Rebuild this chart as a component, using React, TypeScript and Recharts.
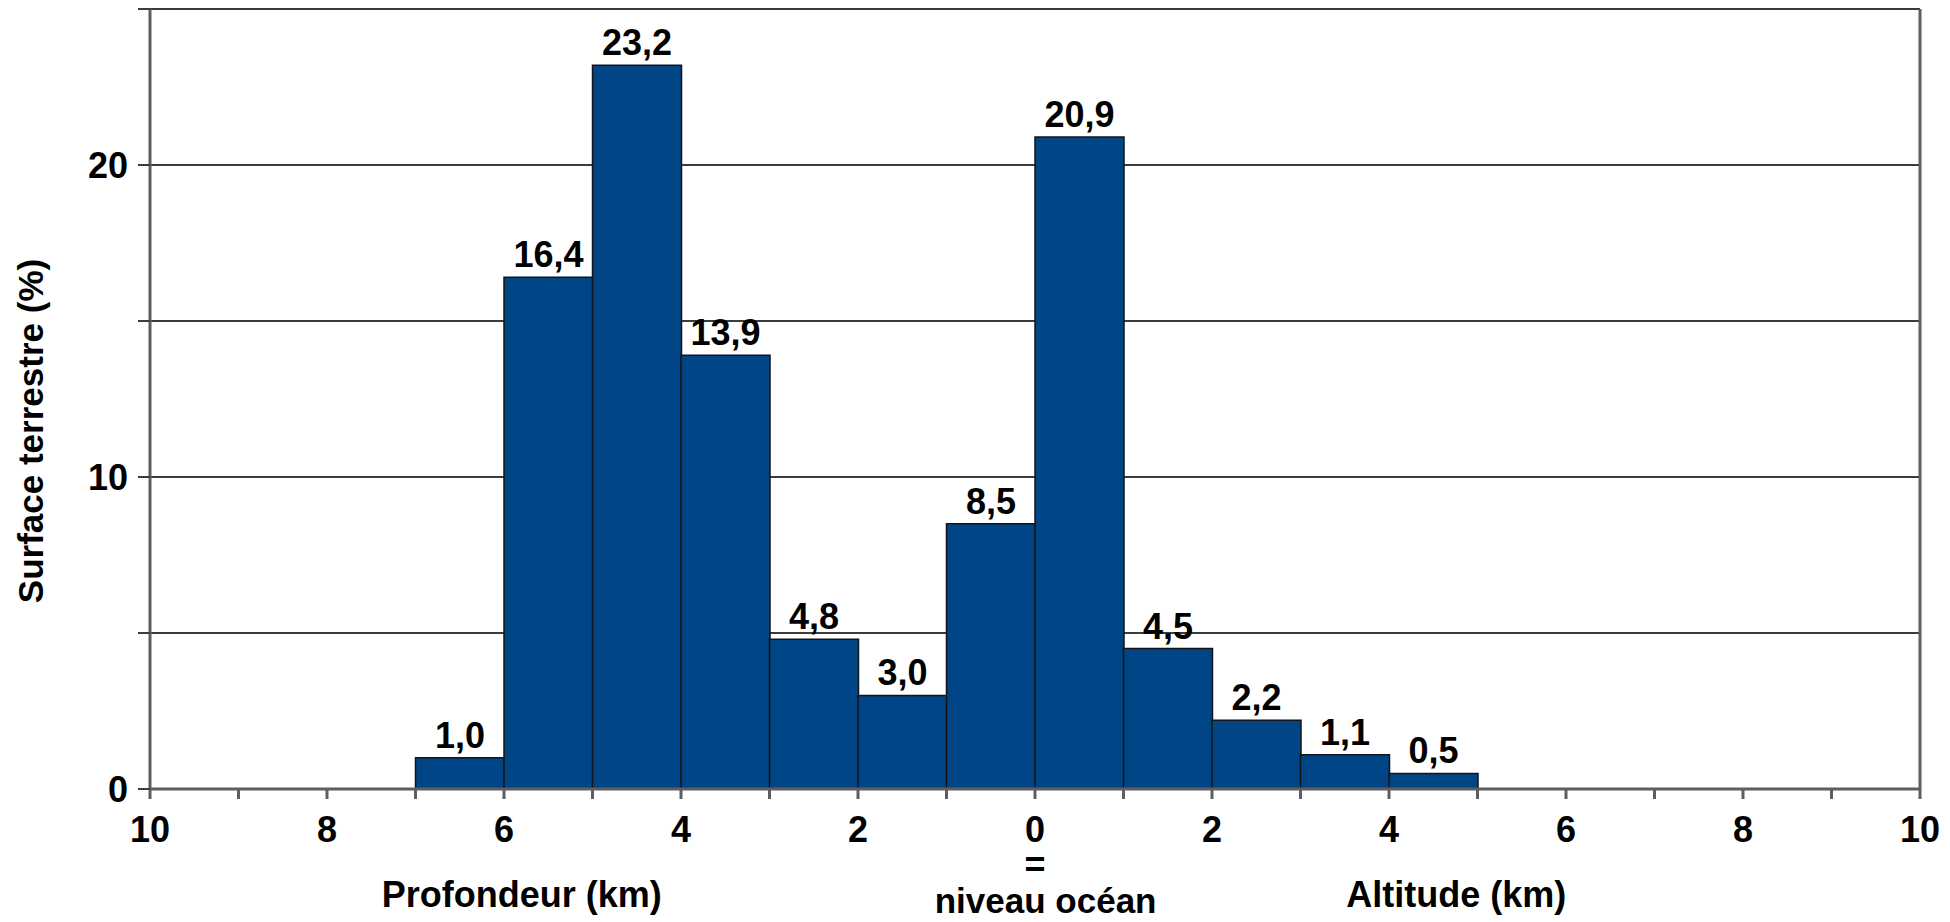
import React from "react";
import {
  BarChart,
  Bar,
  XAxis,
  YAxis,
  CartesianGrid,
  LabelList,
  ReferenceLine,
  Label,
} from "recharts";

// Bins of 1 km, centres from -6.5 (depth 7-6 km) to 4.5 (altitude 4-5 km)
const binCenters = [-6.5, -5.5, -4.5, -3.5, -2.5, -1.5, -0.5, 0.5, 1.5, 2.5, 3.5, 4.5];
const surfaceShares = [1.0, 16.4, 23.2, 13.9, 4.8, 3.0, 8.5, 20.9, 4.5, 2.2, 1.1, 0.5];

const xTicks = [-10, -9, -8, -7, -6, -5, -4, -3, -2, -1, 0, 1, 2, 3, 4, 5, 6, 7, 8, 9, 10];
const yTicks = [0, 5, 10, 15, 20, 25];
const yLabelled = [0, 10, 20];

const data = binCenters.map((x, i) => ({ x, share: surfaceShares[i] }));

const FONT = "'Liberation Sans', Arial, sans-serif";
const BAR = "#004586";
const AXIS = "#5e5e5e";
const GRID = "#3c3c3c";

const textStyle = { fontFamily: FONT, fontWeight: 700, fontSize: 36, fill: "#000" };

export default function App() {
  return (
    <div style={{ position: "absolute", left: 0, top: 0, background: "#fff" }}>
      <BarChart
        width={1950}
        height={922}
        data={data}
        margin={{ top: 9, right: 30, left: 0, bottom: 0 }}
        barCategoryGap={0}
        barGap={0}
      >
        <CartesianGrid vertical={false} stroke={GRID} strokeWidth={2} />
        <XAxis
          dataKey="x"
          type="number"
          domain={[-10, 10]}
          ticks={xTicks}
          interval={0}
          height={133}
          tickSize={10}
          tickMargin={17}
          axisLine={{ stroke: AXIS, strokeWidth: 3 }}
          tickLine={{ stroke: AXIS, strokeWidth: 3 }}
          tick={textStyle}
          tickFormatter={(v: number) => (v % 2 === 0 ? String(Math.abs(v)) : "")}
        >
          <Label
            content={({ viewBox }: any) => {
              const { x, y, width } = viewBox;
              return (
                <g>
                  <text x={x + width * 0.21} y={y + 118} textAnchor="middle" {...textStyle}>
                    Profondeur (km)
                  </text>
                  <text x={x + width * 0.5} y={y + 88} textAnchor="middle" {...textStyle}>
                    =
                  </text>
                  <text x={x + width * 0.506} y={y + 124} textAnchor="middle" {...textStyle} fontSize={35}>
                    niveau océan
                  </text>
                  <text x={x + width * 0.738} y={y + 118} textAnchor="middle" {...textStyle}>
                    Altitude (km)
                  </text>
                </g>
              );
            }}
          />
        </XAxis>
        <YAxis
          type="number"
          domain={[0, 25]}
          ticks={yTicks}
          interval={0}
          width={150}
          tickSize={12}
          tickMargin={10}
          axisLine={{ stroke: AXIS, strokeWidth: 3 }}
          tickLine={{ stroke: GRID, strokeWidth: 2 }}
          tick={textStyle}
          tickFormatter={(v: number) => (yLabelled.includes(v) ? String(v) : "")}
        >
          <Label
            content={({ viewBox }: any) => {
              const cx = 30;
              const cy = viewBox.y + viewBox.height / 2 + 32;
              return (
                <text
                  x={cx}
                  y={cy}
                  transform={`rotate(-90 ${cx} ${cy})`}
                  textAnchor="middle"
                  dominantBaseline="central"
                  {...textStyle}
                  fontSize={35}
                >
                  Surface terrestre (%)
                </text>
              );
            }}
          />
        </YAxis>
        <ReferenceLine x={10} stroke={AXIS} strokeWidth={3} />
        <Bar
          dataKey="share"
          fill={BAR}
          stroke="#141414"
          strokeWidth={1.5}
          isAnimationActive={false}
        >
          <LabelList
            dataKey="share"
            position="top"
            offset={10}
            formatter={(v: any) => Number(v).toFixed(1).replace(".", ",")}
            {...textStyle}
          />
        </Bar>
      </BarChart>
    </div>
  );
}
